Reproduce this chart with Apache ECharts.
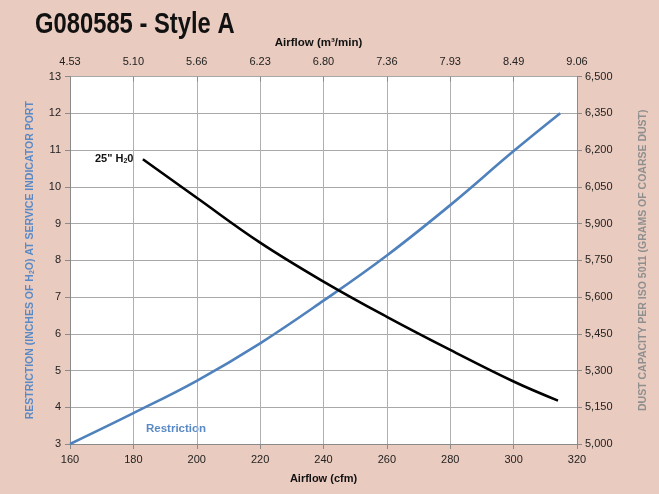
<!DOCTYPE html>
<html><head><meta charset="utf-8">
<script src="https://cdn.jsdelivr.net/npm/echarts@6/dist/echarts.min.js"></script>
<style>html,body{margin:0;padding:0;background:#EACBBF;}#c{width:659px;height:494px;}</style>
</head><body><div id="c"></div>
<script>
const restrictionX = [160, 180, 200, 220, 240, 260, 280, 300, 314.7];
const restrictionY = [3.0, 3.84, 4.72, 5.74, 6.9, 8.13, 9.5, 10.97, 12.0];
const dustX = [183, 200, 220, 240, 260, 280, 300, 314];
const dustY = [6162, 6005, 5822, 5663, 5519, 5384, 5255, 5177];
const topTickLabels = ['4.53','5.10','5.66','6.23','6.80','7.36','7.93','8.49','9.06'];
const rightTickLabels = ['5,000','5,150','5,300','5,450','5,600','5,750','5,900','6,050','6,200','6,350','6,500'];

const font = 'Liberation Sans, Arial, sans-serif';
const chart = echarts.init(document.getElementById('c'), null, {renderer:'canvas'});
const axisLineStyle = {color:'#8a8a8a', width:1};
chart.setOption({
  backgroundColor:'#EACBBF',
  animation:false,
  grid:{left:70, right:82, top:76.5, bottom:50, show:true, backgroundColor:'#ffffff', borderWidth:0},
  xAxis:[
    {type:'value', position:'bottom', min:160, max:320, interval:20,
     name:'Airflow (cfm)', nameLocation:'middle', nameGap:29,
     nameTextStyle:{fontFamily:font, fontWeight:'bold', fontSize:11, color:'#111'},
     axisLine:{lineStyle:axisLineStyle}, axisTick:{show:true, length:5, lineStyle:axisLineStyle},
     axisLabel:{fontFamily:font, fontSize:11, color:'#222', margin:10},
     splitLine:{show:true, lineStyle:{color:'#b0b0b0', width:1}}},
    {type:'value', position:'top', min:160, max:320, interval:20,
     name:'Airflow (m³/min)', nameLocation:'middle', nameGap:28,
     nameTextStyle:{fontFamily:font, fontWeight:'bold', fontSize:11.5, color:'#111', padding:[0,10,0,0]},
     axisLine:{show:false}, axisTick:{show:true, inside:true, length:5, lineStyle:axisLineStyle},
     axisLabel:{fontFamily:font, fontSize:11, color:'#222', margin:9,
       formatter:v=>topTickLabels[Math.round((v-160)/20)]},
     splitLine:{show:false}}
  ],
  yAxis:[
    {type:'value', position:'left', min:3, max:13, interval:1,
     name:'RESTRICTION (INCHES OF H{s|2}O) AT SERVICE INDICATOR PORT', nameLocation:'middle', nameGap:34, nameRotate:90,
     nameTextStyle:{fontFamily:font, fontWeight:'bold', fontSize:10.5, color:'#5A8AC6',
       rich:{s:{fontFamily:font, fontWeight:'bold', fontSize:7, color:'#5A8AC6', padding:[5,0,0,0]}}},
     axisLine:{show:true, lineStyle:axisLineStyle}, axisTick:{show:true, length:5, lineStyle:axisLineStyle},
     axisLabel:{fontFamily:font, fontSize:11, color:'#222', margin:9},
     splitLine:{show:true, lineStyle:{color:'#a8a8a8', width:1}}},
    {type:'value', position:'right', min:5000, max:6500, interval:150,
     name:'DUST CAPACITY PER ISO 5011 (GRAMS OF COARSE DUST)', nameLocation:'middle', nameGap:61, nameRotate:90,
     nameTextStyle:{fontFamily:font, fontWeight:'bold', fontSize:10.5, color:'#8f8f8f'},
     axisLine:{show:true, lineStyle:axisLineStyle}, axisTick:{show:true, length:5, lineStyle:axisLineStyle},
     axisLabel:{fontFamily:font, fontSize:11, color:'#222', margin:8,
       formatter:v=>rightTickLabels[Math.round((v-5000)/150)]},
     splitLine:{show:false}}
  ],
  series:[
    {name:'Restriction', type:'line', xAxisIndex:0, yAxisIndex:0, smooth:0.4, symbol:'none',
     lineStyle:{color:'#4F81BD', width:2.6}, itemStyle:{color:'#4F81BD'},
     data:restrictionX.map((x,i)=>[x,restrictionY[i]])},
    {name:'Dust', type:'line', xAxisIndex:0, yAxisIndex:1, smooth:0.4, symbol:'none',
     lineStyle:{color:'#000', width:2.6}, itemStyle:{color:'#000'},
     data:dustX.map((x,i)=>[x,dustY[i]])}
  ],
  graphic:[
    {type:'text', x:35, y:10, scaleX:0.82, style:{text:'G080585 - Style A', fontFamily:font, fontWeight:'bold', fontSize:29, fill:'#111'}},
    {type:'text', left:95, top:153, style:{text:'25" H{s|2}0', fontFamily:font, fontWeight:'bold', fontSize:11, fill:'#111',
      rich:{s:{fontFamily:font, fontWeight:'bold', fontSize:7, fill:'#111', padding:[6,0,0,0]}}}},
    {type:'text', left:146, top:423, style:{text:'Restriction', fontFamily:font, fontWeight:'bold', fontSize:11.5, fill:'#5A8AC6'}}
  ]
});
</script></body></html>
